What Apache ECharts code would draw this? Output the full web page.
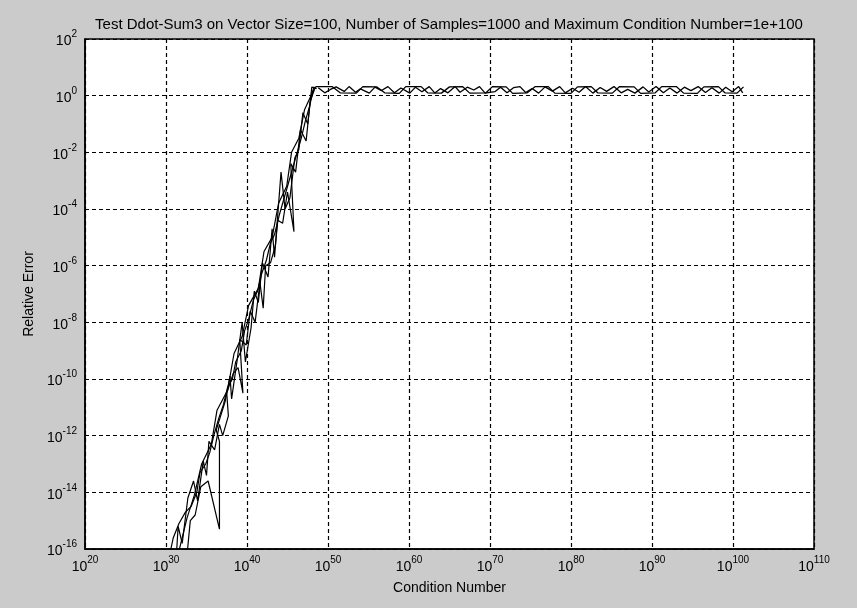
<!DOCTYPE html>
<html>
<head>
<meta charset="utf-8">
<script src="https://cdn.jsdelivr.net/npm/echarts@6/dist/echarts.min.js"></script>
<style>
html,body{margin:0;padding:0;background:#cbcbcb;}
#chart{width:857px;height:608px;}
</style>
</head>
<body>
<div id="chart"></div>
<script>
// All values are log10 exponents: [log10(condition number), log10(relative error)]
const titleText = 'Test Ddot-Sum3 on Vector Size=100, Number of Samples=1000 and Maximum Condition Number=1e+100';
const xAxisName = 'Condition Number';
const yAxisName = 'Relative Error';
const xTickExponents = [20, 30, 40, 50, 60, 70, 80, 90, 100, 110];
const yTickExponents = [-16, -14, -12, -10, -8, -6, -4, -2, 0, 2];

const risingA = [[30.3,-16.4],[30.9,-15.6],[31.6,-15.1],[32.4,-14.7],[33.1,-14.5],[33.8,-14.0],[34.2,-13.3],[34.9,-13.0],[35.4,-12.6],[35.9,-12.0],[36.5,-11.4],[37.1,-10.9],[37.6,-10.3],[38.2,-10.0],[38.6,-9.4],[39.3,-9.0],[39.7,-8.3],[40.2,-7.9],[40.8,-7.2],[41.3,-6.9],[41.8,-6.3],[42.4,-5.8],[42.9,-5.2],[43.4,-4.9],[44.0,-4.2],[44.5,-3.7],[45.1,-3.1],[45.6,-2.6],[46.2,-2.0],[46.7,-1.5],[47.2,-0.9],[47.7,-0.4],[48.1,0.1],[48.5,0.32]];
const risingB = [[31.2,-16.6],[31.5,-15.2],[32.0,-15.8],[32.7,-14.2],[33.4,-13.6],[33.9,-14.3],[34.6,-12.9],[35.0,-13.4],[35.3,-12.2],[36.0,-12.5],[36.6,-11.6],[37.0,-12.0],[37.7,-11.3],[37.5,-10.5],[38.3,-9.8],[38.9,-9.6],[39.5,-10.5],[39.1,-8.6],[39.9,-8.8],[40.4,-7.6],[41.0,-8.0],[41.6,-6.6],[42.0,-7.5],[42.3,-6.0],[42.9,-5.9],[43.5,-5.3],[43.8,-4.4],[44.4,-4.5],[45.0,-3.4],[45.8,-4.8],[45.4,-2.4],[46.0,-2.7],[46.6,-1.2],[47.3,-1.6],[47.8,-0.2],[48.3,0.2]];
const risingC = [[32.6,-16.2],[33.0,-15.0],[33.6,-14.8],[34.3,-13.8],[35.2,-13.6],[36.6,-15.3],[36.6,-12.2],[36.2,-11.8],[37.3,-10.8],[37.9,-9.9],[38.1,-10.7],[38.8,-9.3],[39.4,-8.0],[39.8,-9.4],[40.5,-8.2],[40.9,-6.9],[41.4,-7.3],[41.9,-5.9],[42.6,-6.4],[43.1,-4.7],[43.4,-5.7],[44.2,-2.7],[44.7,-4.0],[45.3,-3.6],[45.9,-2.2],[46.4,-1.9],[46.9,-0.6],[47.5,-1.0],[48.0,0.3],[48.6,0.25]];
const risingD = [[31.4,-16.3],[32.6,-14.9],[33.5,-14.1],[34.4,-13.0],[35.6,-12.3],[36.3,-11.1],[37.6,-10.4],[38.4,-9.1],[39.4,-8.5],[40.2,-7.4],[41.4,-6.8],[42.1,-5.5],[43.1,-5.0],[43.9,-3.8],[44.9,-3.2],[45.5,-2.0],[46.4,-1.5],[47.1,-0.5],[47.9,0.0],[48.3,0.32]];
const flatA = [[48.5,0.32],[50.5,0.32],[51.5,0.1],[53.5,0.09],[54.3,0.32],[56.0,0.31],[57.0,0.1],[58.8,0.08],[59.6,0.32],[61.5,0.32],[62.3,0.1],[64.0,0.09],[65.0,0.31],[66.6,0.32],[67.5,0.09],[69.5,0.1],[70.3,0.32],[72.0,0.31],[72.8,0.08],[74.6,0.1],[75.6,0.32],[77.2,0.32],[78.0,0.09],[80.0,0.08],[80.8,0.31],[82.5,0.32],[83.3,0.1],[85.1,0.09],[86.0,0.32],[87.8,0.31],[88.6,0.08],[90.4,0.1],[91.2,0.32],[93.0,0.32],[93.9,0.09],[95.6,0.08],[96.4,0.31],[98.2,0.32],[99.0,0.1],[100.5,0.09],[101.3,0.31]];
const flatB = [[48.8,0.28],[49.6,0.1],[50.3,0.22],[51.0,0.31],[52.0,0.15],[52.6,0.32],[53.4,0.12],[54.0,0.24],[55.1,0.09],[55.8,0.3],[56.6,0.18],[57.4,0.32],[58.2,0.1],[59.0,0.27],[60.1,0.09],[60.8,0.3],[61.6,0.14],[62.5,0.32],[63.2,0.09],[63.9,0.25],[64.8,0.1],[65.7,0.32],[66.3,0.12],[67.2,0.3],[68.0,0.2],[68.7,0.32],[69.4,0.09],[70.6,0.14],[71.3,0.3],[72.1,0.1],[72.9,0.28],[73.7,0.32],[74.4,0.11],[75.2,0.25],[76.0,0.09],[76.8,0.31],[77.7,0.16],[78.6,0.32],[79.3,0.1],[80.2,0.26],[81.0,0.12],[81.8,0.32],[82.7,0.09],[83.6,0.29],[84.4,0.15],[85.3,0.32],[86.2,0.1],[87.0,0.22],[87.9,0.09],[88.9,0.31],[89.6,0.13],[90.5,0.32],[91.4,0.1],[92.2,0.27],[93.1,0.09],[94.0,0.3],[94.8,0.18],[95.7,0.32],[96.6,0.11],[97.4,0.28],[98.3,0.09],[99.1,0.3],[99.9,0.14],[100.7,0.32],[101.2,0.1]];

const FONT = '"Liberation Sans", Arial, sans-serif';
const chart = echarts.init(document.getElementById('chart'), null, {renderer: 'canvas'});

function supLabel(v) { return '{b|10}{s|' + v + '}'; }
const richSup = {
  b: {fontSize: 14, fontFamily: FONT, color: '#000', verticalAlign: 'bottom', padding: [5, 0, 0, 0]},
  s: {fontSize: 10, fontFamily: FONT, color: '#000', verticalAlign: 'top'}
};
const lineSeries = (data, w) => ({
  type: 'line', data: data, symbol: 'none', smooth: false, clip: true,
  lineStyle: {color: '#000', width: w}, animation: false
});

chart.setOption({
  backgroundColor: '#cbcbcb',
  animation: false,
  title: {
    text: titleText, left: 444, top: 12, textAlign: 'center',
    textStyle: {fontFamily: FONT, fontSize: 15, fontWeight: 'normal', color: '#000'}
  },
  grid: {left: 85, right: 43, top: 39, bottom: 59, show: true, backgroundColor: '#fff', borderColor: '#000', borderWidth: 1.5, containLabel: false},
  xAxis: {
    type: 'value', min: xTickExponents[0], max: xTickExponents[xTickExponents.length - 1], interval: 10,
    name: xAxisName, nameLocation: 'middle', nameGap: 32,
    nameTextStyle: {fontFamily: FONT, fontSize: 14, color: '#000'},
    axisLine: {show: true, onZero: false, lineStyle: {color: '#000', width: 1.5}},
    axisTick: {show: false},
    axisLabel: {formatter: supLabel, rich: richSup, margin: 6, showMinLabel: true, showMaxLabel: true},
    splitLine: {show: true, lineStyle: {color: '#000', type: [4, 3], width: 1.2}}
  },
  yAxis: {
    type: 'value', min: yTickExponents[0], max: yTickExponents[yTickExponents.length - 1], interval: 2,
    name: yAxisName, nameLocation: 'middle', nameGap: 45,
    nameTextStyle: {fontFamily: FONT, fontSize: 14, color: '#000'},
    axisLine: {show: true, onZero: false, lineStyle: {color: '#000', width: 1.5}},
    axisTick: {show: false},
    axisLabel: {formatter: supLabel, rich: richSup, margin: 8, showMinLabel: true, showMaxLabel: true},
    splitLine: {show: true, lineStyle: {color: '#000', type: [4, 3], width: 1.2}}
  },
  series: [lineSeries(risingA, 1.2), lineSeries(risingB, 1.2), lineSeries(risingC, 1.2), lineSeries(risingD, 1.2), lineSeries(flatA, 1.3), lineSeries(flatB, 1.3)]
});
</script>
</body>
</html>
